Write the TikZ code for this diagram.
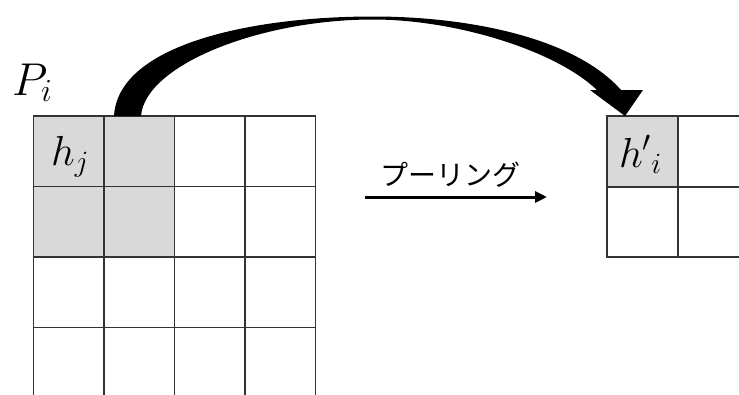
\RequirePackage{fix-cm}
\documentclass[tikz,border=0pt]{standalone}
\usepackage{fontspec}
\newfontfamily\cjk{Noto Sans CJK JP}
\usetikzlibrary{arrows.meta}
\definecolor{cellgray}{HTML}{D9D9D9}
\definecolor{gridline}{HTML}{333333}
\begin{document}
\begin{tikzpicture}[x=1pt,y=-1pt,
  cell/.style={draw=gridline,line width=1.6pt},
  graycell/.style={cell,fill=cellgray},
  mathlbl/.style={inner sep=0pt,anchor=base west}]
\clip (0,0) rectangle (739,394);
\fill[white] (0,0) rectangle (739,394);
% left grid 4x4
\foreach \r in {0,1,2,3}{
  \foreach \c in {0,1,2,3}{
    \pgfmathsetmacro{\xa}{33.5+70.5*\c}
    \pgfmathsetmacro{\ya}{116+70.5*\r}
    \ifnum\r<2 \ifnum\c<2
      \draw[graycell] (\xa,\ya) rectangle ++(70.5,70.5);
    \else
      \draw[cell] (\xa,\ya) rectangle ++(70.5,70.5);
    \fi\else
      \draw[cell] (\xa,\ya) rectangle ++(70.5,70.5);
    \fi
  }
}
% right grid 2x2
\draw[graycell] (607,116) rectangle (678,186.7);
\draw[cell] (678,116) rectangle (749,186.7);
\draw[cell] (607,186.7) rectangle (678,257);
\draw[cell] (678,186.7) rectangle (749,257);
% labels
\node[mathlbl] (P) at (12,95) {\fontsize{46}{46}\selectfont $P_i$};
\node[mathlbl] (hj) at (51,165) {\fontsize{42}{42}\selectfont $h_j$};
\node[mathlbl] (hi) at (619,167) {\fontsize{42}{42}\selectfont ${h'}_i$};
\node[inner sep=0pt,anchor=base] (pool) at (450.5,185) {\cjk\fontsize{28}{28}\selectfont プーリング};
% pooling arrow
\coordinate (pa) at (365,197);
\coordinate (pb) at (547,197);
\draw[line width=3pt,-{Triangle[length=12pt,width=11pt]}] (pa) -- (pb);
% curved arrow
\fill[black] (114,116) .. controls (118,45) and (250,16.5) .. (373,16.5)
  .. controls (470,16.5) and (575,38) .. (621,90)
  -- (643,90) -- (625,116) -- (590,90) -- (597,90)
  .. controls (555,50) and (455,19.5) .. (373,19.5)
  .. controls (260,19.5) and (145,65) .. (141,116) -- cycle;
\end{tikzpicture}
\end{document}
